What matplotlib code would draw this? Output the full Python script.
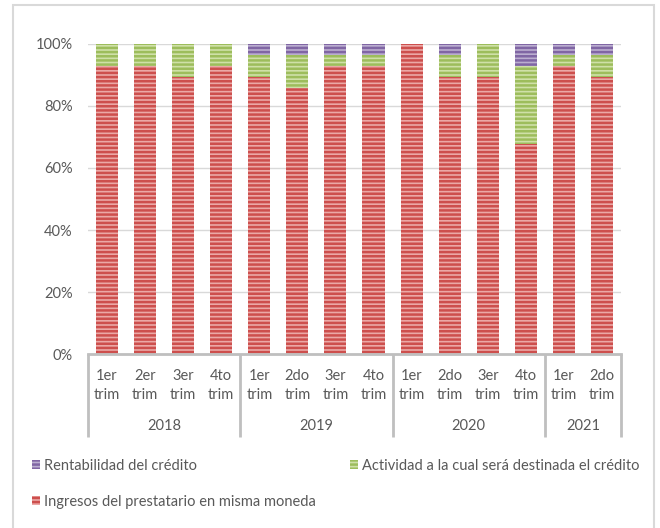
import numpy as np
import matplotlib
matplotlib.use("Agg")
import matplotlib.pyplot as plt
from matplotlib.patches import Rectangle, Patch

plt.rcParams['font.family'] = ['Lato', 'DejaVu Sans']
plt.rcParams['hatch.linewidth'] = 1.8

# 数据
years = ['2018', '2019', '2020', '2021']
quarters = ['1er\ntrim', '2er\ntrim', '3er\ntrim', '4to\ntrim',
            '1er\ntrim', '2do\ntrim', '3er\ntrim', '4to\ntrim',
            '1er\ntrim', '2do\ntrim', '3er\ntrim', '4to\ntrim',
            '1er\ntrim', '2do\ntrim']
year_sizes = [4, 4, 4, 2]

ingresos = [92.9, 92.9, 89.3, 92.9, 89.3, 85.7, 92.9, 92.9, 100.0, 89.3, 89.3, 67.9, 92.9, 89.3]
actividad = [7.1, 7.1, 10.7, 7.1, 7.1, 10.7, 3.6, 3.6, 0.0, 7.1, 10.7, 25.0, 3.6, 7.1]
rentabilidad = [0.0, 0.0, 0.0, 0.0, 3.6, 3.6, 3.5, 3.5, 0.0, 3.6, 0.0, 7.1, 3.5, 3.6]

labels = ['Ingresos del prestatario en misma moneda',
          'Actividad a la cual será destinada el crédito',
          'Rentabilidad del crédito']
face_cols = ['#EBA8A6', '#CFE0A8', '#BBAED0']
hatch_cols = ['#CD4F4D', '#9DBD5C', '#8066A4']

fig = plt.figure(figsize=(6.6, 5.28), dpi=100)
ax = fig.add_axes([0.1333, 0.3295, 0.8076, 0.5872])

x = np.arange(len(quarters))
bottom = np.zeros(len(quarters))
for vals, fc, hc in zip([ingresos, actividad, rentabilidad], face_cols, hatch_cols):
    vals = np.array(vals)
    ax.bar(x, vals, width=0.58, bottom=bottom, facecolor=fc, edgecolor=hc,
           hatch='----', linewidth=0, zorder=3)
    bottom += vals

ax.set_xlim(-0.5, len(quarters) - 0.5)
ax.set_ylim(0, 100)
ax.set_yticks(np.arange(0, 101, 20))
ax.set_yticklabels([f"{v}%" for v in range(0, 101, 20)])
ax.tick_params(axis='y', length=0, pad=11, labelsize=10.5, labelcolor='#595959')
ax.set_xticks([])
ax.grid(axis='y', color='#D9D9D9', linewidth=1, zorder=0)
for s in ['top', 'right', 'left']:
    ax.spines[s].set_visible(False)
ax.spines['bottom'].set_color('#BFBFBF')
ax.spines['bottom'].set_linewidth(2)
ax.spines['bottom'].set_zorder(4)

# 多级分类轴
trans = ax.get_xaxis_transform()
for xi, q in zip(x, quarters):
    ax.text(xi, -0.10, q, transform=trans, ha='center', va='center',
            fontsize=10.5, color='#595959', linespacing=1.45)
edges = np.concatenate([[0], np.cumsum(year_sizes)]) - 0.5
for e in edges:
    ax.plot([e, e], [0, -0.268], transform=trans, color='#BFBFBF', lw=2,
            clip_on=False, solid_capstyle='butt')
for i, y in enumerate(years):
    mid = (edges[i] + edges[i + 1]) / 2
    ax.text(mid, -0.233, y, transform=trans, ha='center', va='center',
            fontsize=10.5, color='#595959')

# 图例（Excel 式流式排列）
order = [2, 1, 0]
anchors = [(32 / 660, 1 - 466 / 528), (350 / 660, 1 - 466 / 528), (32 / 660, 1 - 502 / 528)]
for k, anc in zip(order, anchors):
    h = Patch(facecolor=face_cols[k], edgecolor=hatch_cols[k], hatch='----',
              linewidth=0, label=labels[k])
    fig.legend(handles=[h], loc='center left', bbox_to_anchor=anc,
               frameon=False, fontsize=10.5, labelcolor='#595959', handlelength=0.55,
               handleheight=0.55, handletextpad=0.25, borderaxespad=0, borderpad=0)

# 外框
fig.add_artist(Rectangle((13 / 660, -0.02), 641 / 660, 1.02 - 5 / 528,
                         transform=fig.transFigure, fill=False,
                         edgecolor='#D9D9D9', linewidth=1.5))

fig.savefig('out.png', dpi=100)
